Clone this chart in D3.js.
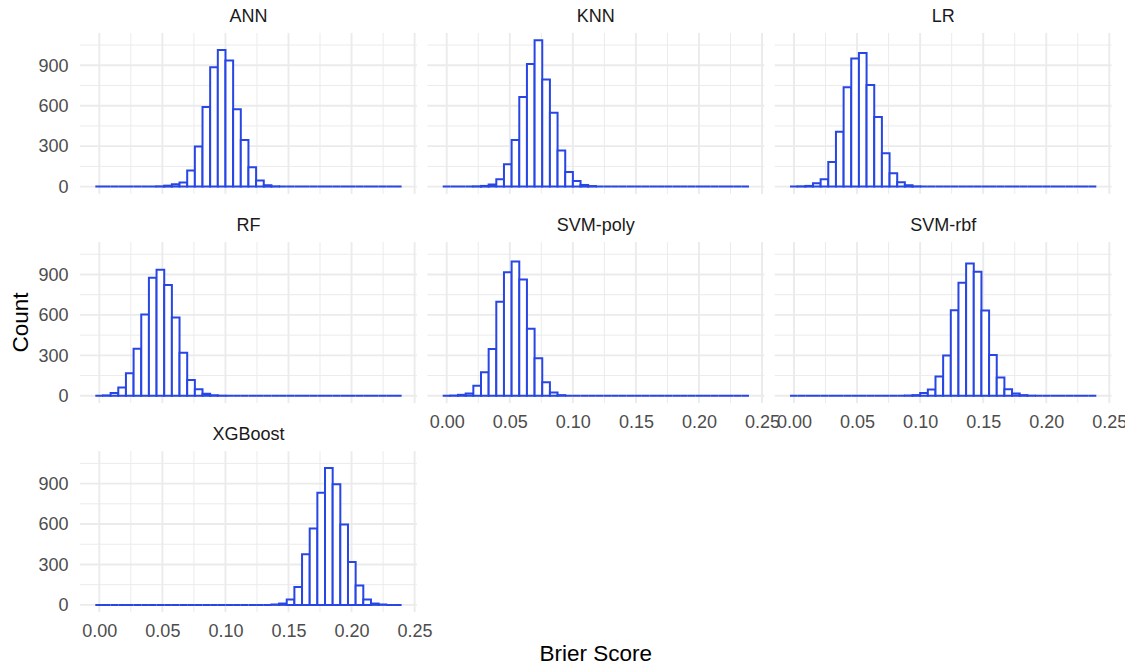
<!DOCTYPE html>
<html>
<head>
<meta charset="utf-8">
<script src="https://cdn.jsdelivr.net/npm/d3@7"></script>
<style>
  body { margin: 0; background: #fff; }
  svg text { font-family: "Liberation Sans", Arial, Helvetica, sans-serif; }
</style>
</head>
<body>
<div id="chart"></div>
<script>

// facet names, in layout order
var models = ["ANN", "KNN", "LR", "RF", "SVM-poly", "SVM-rbf", "XGBoost"];

// histogram bins (shared by every facet)
var binStart = -0.00317;
var binWidth = 0.006071;

// counts per bin, 40 bins each
var annCounts = [0,0,0,0,0,0,0,0,2,7,17,30,119,297,591,885,1014,935,574,346,143,45,10,2,0,0,0,0,0,0,0,0,0,0,0,0,0,0,0,0];
var knnCounts = [0,0,0,0,2,5,15,54,166,346,665,910,1086,794,547,267,109,42,12,4,0,0,0,0,0,0,0,0,0,0,0,0,0,0,0,0,0,0,0,0];
var lrCounts = [0,2,5,25,54,183,406,737,950,992,754,517,247,99,32,10,2,0,0,0,0,0,0,0,0,0,0,0,0,0,0,0,0,0,0,0,0,0,0,0];
var rfCounts = [0,3,20,61,167,349,603,876,935,822,581,320,118,49,15,4,1,0,0,0,0,0,0,0,0,0,0,0,0,0,0,0,0,0,0,0,0,0,0,0];
var svmPolyCounts = [0,2,7,17,74,175,347,698,917,996,863,497,278,101,25,5,0,0,0,0,0,0,0,0,0,0,0,0,0,0,0,0,0,0,0,0,0,0,0,0];
var svmRbfCounts = [0,0,0,0,0,0,0,0,0,0,0,0,0,0,0,2,5,20,47,143,298,635,838,982,920,633,302,135,48,17,5,1,0,0,0,0,0,0,0,0];
var xgbCounts = [0,0,0,0,0,0,0,0,0,0,0,0,0,0,0,0,0,0,0,0,0,0,0,3,10,40,132,375,567,832,1015,895,596,319,143,40,10,3,0,0];

var allCounts = [annCounts, knnCounts, lrCounts, rfCounts, svmPolyCounts, svmRbfCounts, xgbCounts];

// tick values
var xTicks = [0, 0.05, 0.10, 0.15, 0.20, 0.25];
var xMinorTicks = [0.025, 0.075, 0.125, 0.175, 0.225];
var yTicks = [0, 300, 600, 900];
var yMinorTicks = [150, 450, 750, 1050];

var svgWidth = 1125, svgHeight = 665;

// facet grid geometry
var panelLefts = [80, 427.4, 774.7];
var panelTops = [32.9, 242.1, 451.2];
var panelW = 336.9;
var panelH = 161;

var blue = "#2746e4";
var gridCol = "#ebebeb";

var svg = d3.select("#chart")
  .append("svg")
  .attr("width", svgWidth)
  .attr("height", svgHeight);

// shared scale domains (fixed scales, 5% expansion like ggplot)
var nBins = annCounts.length;
var xLo = binStart, xHi = binStart + nBins * binWidth;
var xPad = (xHi - xLo) * 0.05;
var yMax = d3.max(allCounts, c => d3.max(c));
var yPad = yMax * 0.05;

models.forEach(function(name, k) {
  var col = k % 3, row = Math.floor(k / 3);
  var left = panelLefts[col], top = panelTops[row];

  var x = d3.scaleLinear()
    .domain([xLo - xPad, xHi + xPad])
    .range([left, left + panelW]);
  var y = d3.scaleLinear()
    .domain([-yPad, yMax + yPad])
    .range([top + panelH, top]);

  var g = svg.append("g");

  // grid lines
  g.selectAll(".vminor").data(xMinorTicks).enter().append("line")
    .attr("x1", d => x(d)).attr("x2", d => x(d))
    .attr("y1", top).attr("y2", top + panelH)
    .attr("stroke", gridCol).attr("stroke-width", 1);
  g.selectAll(".hminor").data(yMinorTicks).enter().append("line")
    .attr("x1", left).attr("x2", left + panelW)
    .attr("y1", d => y(d)).attr("y2", d => y(d))
    .attr("stroke", gridCol).attr("stroke-width", 1);
  g.selectAll(".vmajor").data(xTicks).enter().append("line")
    .attr("x1", d => x(d)).attr("x2", d => x(d))
    .attr("y1", top).attr("y2", top + panelH)
    .attr("stroke", gridCol).attr("stroke-width", 1.9);
  g.selectAll(".hmajor").data(yTicks).enter().append("line")
    .attr("x1", left).attr("x2", left + panelW)
    .attr("y1", d => y(d)).attr("y2", d => y(d))
    .attr("stroke", gridCol).attr("stroke-width", 1.9);

  // bars drawn as closed paths so that empty bins still show as a line
  var counts = allCounts[k];
  g.selectAll(".bar").data(counts).enter().append("path")
    .attr("d", function(c, i) {
      var x0 = x(binStart + i * binWidth), x1 = x(binStart + (i + 1) * binWidth);
      var y0 = y(0), y1 = y(c);
      return "M" + x0 + "," + y0 + "V" + y1 + "H" + x1 + "V" + y0 + "Z";
    })
    .attr("fill", "#fff")
    .attr("stroke", blue)
    .attr("stroke-width", 2);

  // strip title
  svg.append("text")
    .attr("x", left + panelW / 2)
    .attr("y", top - 11.4)
    .attr("text-anchor", "middle")
    .style("font-size", "18px")
    .style("fill", "#1a1a1a")
    .text(name);

  // y axis labels on the first column
  if (col === 0) {
    var yAxis = d3.axisLeft(y).tickValues(yTicks).tickSize(0).tickPadding(11.5);
    var ya = svg.append("g")
      .attr("transform", `translate(${left},0)`)
      .call(yAxis);
    ya.select(".domain").remove();
    ya.selectAll("text").style("font-size", "18px").style("fill", "#4d4d4d");
  }

  // x axis labels under the lowest panel of each column
  if (k >= 4) {
    var xAxis = d3.axisBottom(x).tickValues(xTicks).tickSize(0).tickPadding(12)
      .tickFormat(d3.format(".2f"));
    var xa = svg.append("g")
      .attr("transform", `translate(0,${top + panelH})`)
      .call(xAxis);
    xa.select(".domain").remove();
    xa.selectAll("text").style("font-size", "18px").style("fill", "#4d4d4d");
  }
});

// axis titles
svg.append("text")
  .attr("x", (panelLefts[0] + panelLefts[2] + panelW) / 2)
  .attr("y", 661)
  .attr("text-anchor", "middle")
  .style("font-size", "22.5px")
  .style("fill", "#000")
  .text("Brier Score");

svg.append("text")
  .attr("transform", `translate(28,${(panelTops[0] + panelTops[2] + panelH) / 2}) rotate(-90)`)
  .attr("text-anchor", "middle")
  .style("font-size", "22.5px")
  .style("fill", "#000")
  .text("Count");

</script>
</body>
</html>
